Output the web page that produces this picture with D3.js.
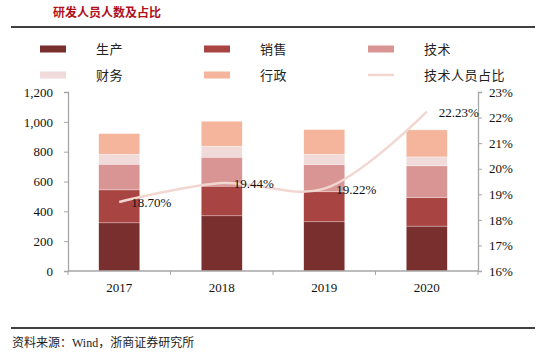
<!DOCTYPE html>
<html><head><meta charset="utf-8">
<script src="https://cdn.jsdelivr.net/npm/d3@7"></script>
<style>body{margin:0;background:#fff}svg{display:block}</style>
</head><body>
<svg id="c" width="545" height="354"></svg>
<script>
const years = ["2017","2018","2019","2020"];
const seriesNames = ["生产","销售","技术","财务","行政"];
const production = [323, 370, 330, 301];
const sales = [221, 199, 201, 192];
const tech = [172, 194, 183, 212];
const finance = [67, 74, 69, 60];
const admin = [138, 167, 165, 181];
const techRatio = [18.70, 19.44, 19.22, 22.23];
const leftTicks = [0,200,400,600,800,1000,1200];
const rightTicks = [16,17,18,19,20,21,22,23];
const colors = ["#7a2f2f","#a84543","#d99594","#f0dada","#f4b59c"];
const lineColor = "#f2d6d0";

const svg = d3.select("#c");
const serif = "'Liberation Serif','Times New Roman',serif";
const cjk = "'Noto Sans CJK SC',sans-serif";

// title
svg.append("text").attr("x",53).attr("y",17).text("研发人员人数及占比")
  .attr("font-family",cjk).attr("font-size",12).attr("font-weight","bold").attr("fill","#b0101c");
svg.append("line").attr("x1",11).attr("x2",535).attr("y1",27).attr("y2",27).attr("stroke","#000").attr("stroke-width",1.3);

// scales
const x = d3.scaleBand().domain(years).range([68,478]).paddingInner(0.6).paddingOuter(0.3);
const y = d3.scaleLinear().domain([0,1200]).range([271,92]);
const y2 = d3.scaleLinear().domain([16,23]).range([271,92]);

const data = years.map((yr,i)=>({year:yr, 生产:production[i], 销售:sales[i], 技术:tech[i], 财务:finance[i], 行政:admin[i]}));
const stack = d3.stack().keys(seriesNames)(data);

svg.append("g").selectAll("g").data(stack).join("g").attr("fill",(d,i)=>colors[i])
  .selectAll("rect").data(d=>d).join("rect")
  .attr("x",d=>x(d.data.year)).attr("width",x.bandwidth())
  .attr("y",d=>y(d[1])).attr("height",d=>y(d[0])-y(d[1]))
  .attr("stroke","#fff").attr("stroke-width",0.5).attr("stroke-opacity",0.6);

// axes
const axisColor = "#a6a6a6";
const gl = svg.append("g").attr("transform","translate(68,0)")
  .call(d3.axisLeft(y).tickValues(leftTicks).tickSize(4).tickPadding(11).tickFormat(d3.format(",")));
const gr = svg.append("g").attr("transform","translate(478,0)")
  .call(d3.axisRight(y2).tickValues(rightTicks).tickSize(4).tickPadding(7).tickFormat(d=>d+"%"));
const band = d3.scaleLinear().domain([0,4]).range([68,478]);
const gb = svg.append("g").attr("transform","translate(0,271)");
gb.append("line").attr("x1",68).attr("x2",478).attr("stroke",axisColor).attr("stroke-width",1.3);
gb.selectAll("line.t").data(d3.range(5)).join("line").attr("class","t")
  .attr("x1",d=>band(d)).attr("x2",d=>band(d)).attr("y1",0).attr("y2",4).attr("stroke",axisColor);
gb.selectAll("text").data(years).join("text")
  .attr("x",d=>x(d)+x.bandwidth()/2).attr("y",21).attr("text-anchor","middle")
  .attr("font-family",serif).attr("font-size",13).attr("fill","#111").text(d=>d);

[gl,gr].forEach(g=>{
  g.select(".domain").attr("stroke",axisColor).attr("stroke-width",1.3);
  g.selectAll(".tick line").attr("stroke",axisColor);
  g.selectAll(".tick text").attr("font-family",serif).attr("font-size",13).attr("fill","#111");
});

// line
const pts = years.map((yr,i)=>[x(yr)+x.bandwidth()/2, y2(techRatio[i])]);
svg.append("path").attr("d",d3.line().curve(d3.curveCatmullRom.alpha(0.5))(pts))
  .attr("fill","none").attr("stroke",lineColor).attr("stroke-width",2.5);
svg.append("g").selectAll("text").data(pts).join("text")
  .attr("x",d=>d[0]+12).attr("y",d=>d[1]+5)
  .attr("font-family",serif).attr("font-size",13).attr("fill","#111")
  .text((d,i)=>techRatio[i].toFixed(2)+"%");

// legend
const legendItems = [
  {name:"生产", c:colors[0], col:0,row:0},
  {name:"销售", c:colors[1], col:1,row:0},
  {name:"技术", c:colors[2], col:2,row:0},
  {name:"财务", c:colors[3], col:0,row:1},
  {name:"行政", c:colors[4], col:1,row:1},
  {name:"技术人员占比", c:lineColor, col:2,row:1, line:true}
];
const colX = [40,204,368], rowY = [49,75];
const lg = svg.append("g");
legendItems.forEach(it=>{
  const gx = colX[it.col], gy = rowY[it.row];
  if(it.line){
    lg.append("line").attr("x1",gx).attr("x2",gx+26).attr("y1",gy).attr("y2",gy).attr("stroke",it.c).attr("stroke-width",2.5);
  } else {
    lg.append("rect").attr("x",gx).attr("y",gy-3.5).attr("width",26).attr("height",7).attr("fill",it.c);
  }
  lg.append("text").attr("x",gx+56).attr("y",gy+4.5).text(it.name)
    .attr("font-family",cjk).attr("font-size",13).attr("fill","#222").attr("letter-spacing",0.5);
});

// footer
svg.append("line").attr("x1",11).attr("x2",535).attr("y1",328).attr("y2",328).attr("stroke","#000").attr("stroke-width",1.3);
svg.append("text").attr("x",12).attr("y",347).attr("font-family","'Liberation Serif','Noto Sans CJK SC',serif").attr("font-size",12).attr("fill","#222")
  .text("资料来源：Wind，浙商证券研究所");
</script>
</body></html>
